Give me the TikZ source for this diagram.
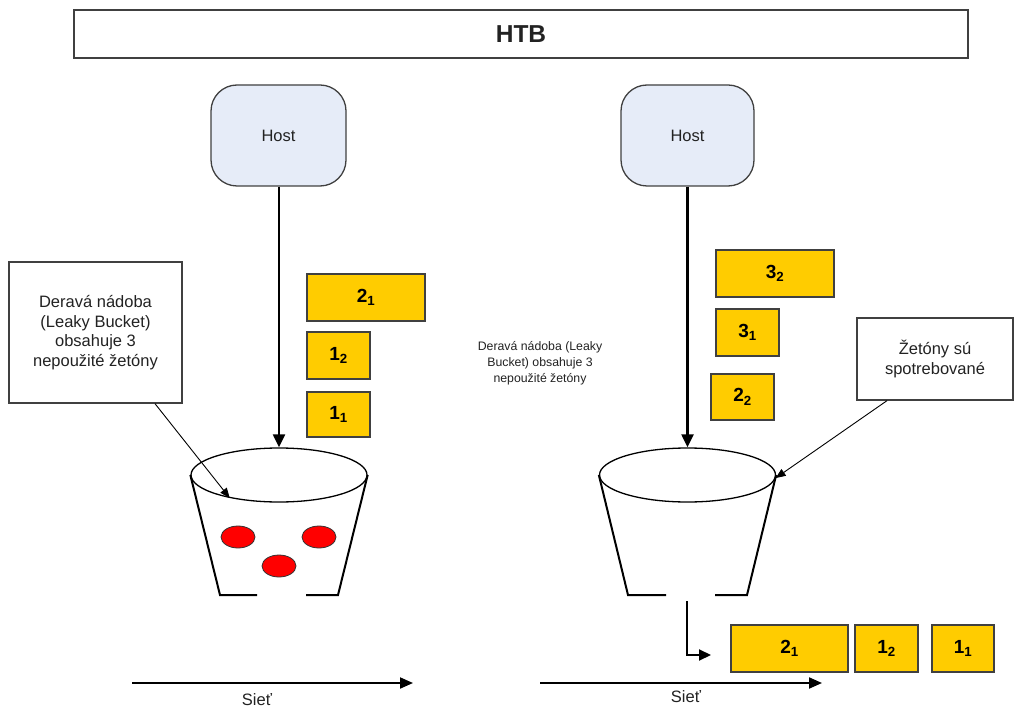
\documentclass[tikz,border=0pt]{standalone}
\usepackage{fontspec}
\setmainfont{Liberation Sans}
\usetikzlibrary{arrows.meta,shapes.geometric}
\definecolor{tokfill}{HTML}{FFCC00}
\definecolor{hostfill}{HTML}{E6ECF8}
\definecolor{txt}{HTML}{222222}
\tikzset{
  box/.style={draw=black!75, line width=1.3pt, inner sep=0pt, text=txt},
  hostbox/.style={box, fill=hostfill, rounded corners=26pt, font=\fontsize{16.5}{19}\selectfont},
  token/.style={draw=black!75, line width=1.3pt, fill=tokfill, inner sep=0pt,
    minimum height=47pt, font=\bfseries\fontsize{19}{22}\selectfont},
  callout/.style={box, align=center, font=\fontsize{16.5}{19.7}\selectfont},
  bucket/.style={line width=2pt, line cap=butt, line join=miter},
  feed/.style={line width=2.2pt, -{Triangle[length=13pt,width=12pt]}},
  thin arrow/.style={line width=0.9pt, -{Triangle[length=10pt,width=8pt]}},
  ball/.style={ellipse, draw=black!80, line width=0.8pt, fill=red, minimum width=34pt, minimum height=22pt, inner sep=0pt},
  net/.style={line width=2pt, -{Triangle[length=13pt,width=11pt]}},
  netlabel/.style={text=txt, font=\fontsize{16.5}{19}\selectfont},
}
\newcommand{\tk}[2]{#1\textsubscript{#2}}
\begin{document}
\begin{tikzpicture}[x=1pt,y=-1pt]
\useasboundingbox (0,0) rectangle (1016,708);

% title bar
\node[box, minimum width=894pt, minimum height=48pt, font=\bfseries\fontsize{24.5}{28}\selectfont] (htb) at (521,34) {HTB};

% hosts
\node[hostbox, minimum width=135pt, minimum height=101pt] (hostL) at (278.5,135.5) {Host};
\node[hostbox, minimum width=133pt, minimum height=101pt] (hostR) at (687.5,135.5) {Host};

% left bucket
\node[ellipse, draw, line width=1.3pt, minimum width=176pt, minimum height=54pt, inner sep=0pt] (bucketL) at (279,475) {};
\coordinate (bLa) at (220,595);
\coordinate (bLb) at (257,595);
\coordinate (bLc) at (306,595);
\coordinate (bLd) at (338,595);
\draw[bucket] (bucketL.west) -- (bLa) -- (bLb);
\draw[bucket] (bLc) -- (bLd) -- (bucketL.east);
\node[ball] (ball1) at (238,537) {};
\node[ball] (ball2) at (319,537) {};
\node[ball] (ball3) at (279,566) {};

% right bucket
\node[ellipse, draw, line width=1.3pt, minimum width=176pt, minimum height=54pt, inner sep=0pt] (bucketR) at (687.5,475) {};
\coordinate (bRa) at (628,595);
\coordinate (bRb) at (666,595);
\coordinate (bRc) at (715,595);
\coordinate (bRd) at (747,595);
\draw[bucket] (bucketR.west) -- (bRa) -- (bRb);
\draw[bucket] (bRc) -- (bRd) -- (bucketR.east);

% host feeds
\draw[feed] (hostL.south -| bucketL.north) -- (bucketL.north);
\draw[feed] (hostR.south -| bucketR.north) -- (bucketR.north);

% waiting packets, left
\node[token, minimum width=118pt] (l21) at (366,297.5) {\tk{2}{1}};
\node[token, minimum width=63pt] (l12) at (338.5,355.5) {\tk{1}{2}};
\node[token, minimum width=63pt, minimum height=45pt] (l11) at (338.5,414.5) {\tk{1}{1}};

% waiting packets, right
\node[token, minimum width=118pt] (r32) at (775,273.5) {\tk{3}{2}};
\node[token, minimum width=63pt] (r31) at (747.5,332.5) {\tk{3}{1}};
\node[token, minimum width=63pt, minimum height=46pt] (r22) at (742.5,397) {\tk{2}{2}};

% sent packets
\node[token, minimum width=117pt] (o21) at (789.5,648.5) {\tk{2}{1}};
\node[token, minimum width=63pt] (o12) at (886.5,648.5) {\tk{1}{2}};
\node[token, minimum width=62pt] (o11) at (963,648.5) {\tk{1}{1}};

% leak from right bucket
\coordinate (leakTop) at (687,601);
\coordinate (leakEnd) at (711,655);
\draw[line width=2pt, -{Triangle[length=12pt,width=11pt]}] (leakTop) |- (leakEnd);

% callouts
\node[callout, minimum width=173pt, minimum height=141pt] (noteL) at (95.5,332.5)
  {Deravá nádoba\\(Leaky Bucket)\\obsahuje 3\\nepoužité žetóny};
\draw[thin arrow] (noteL.south -| 155,0) -- (bucketL.-155);

\node[callout, minimum width=156pt, minimum height=82pt] (noteR) at (935,359)
  {Žetóny sú\\spotrebované};
\draw[thin arrow] (noteR.south -| 887,0) -- (bucketR.-2);

\node[align=center, text=txt, font=\fontsize{12.3}{16}\selectfont] (mid) at (540,363)
  {Deravá nádoba (Leaky\\Bucket) obsahuje 3\\nepoužité žetóny};

% network lines
\coordinate (netLa) at (132,683);
\coordinate (netLb) at (413,683);
\draw[net] (netLa) -- (netLb);
\node[netlabel] (sietL) at (257,700) {Sieť};

\coordinate (netRa) at (540,683);
\coordinate (netRb) at (822,683);
\draw[net] (netRa) -- (netRb);
\node[netlabel] (sietR) at (686,697) {Sieť};
\end{tikzpicture}
\end{document}
